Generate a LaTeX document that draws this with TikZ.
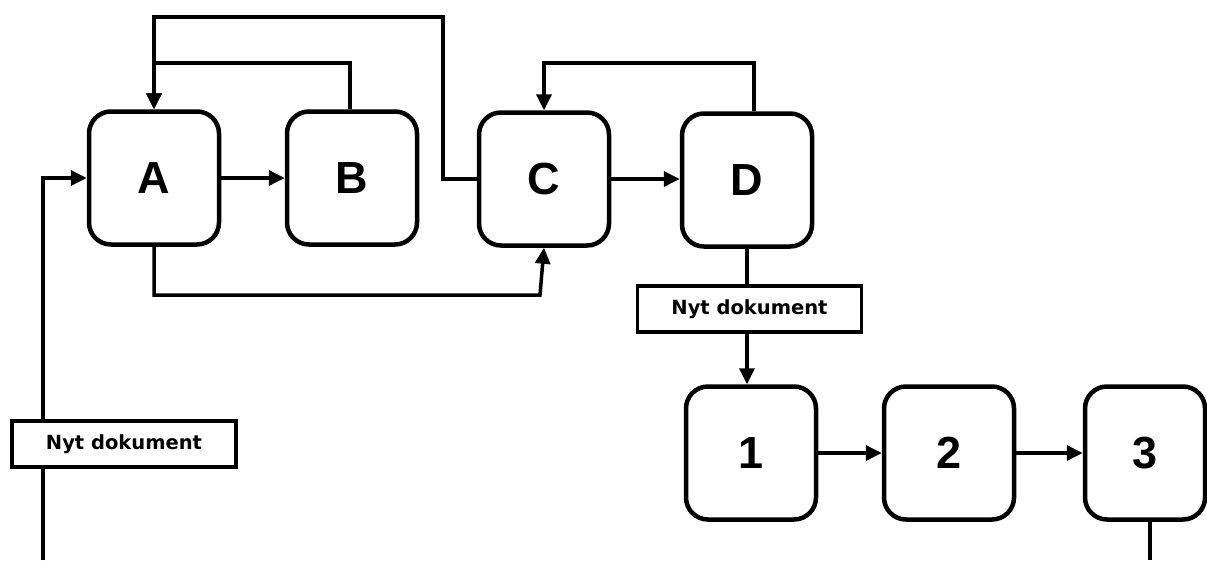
\documentclass[tikz,border=0pt]{standalone}
\usepackage{fontspec}
\setmainfont{Liberation Sans}
\newfontfamily\labelfont{DejaVu Sans}
\usetikzlibrary{arrows.meta}
\tikzset{
  stage/.style={draw, line width=4.5pt, rounded corners=22pt, fill=white,
    minimum width=130pt, minimum height=133pt, inner sep=0pt,
    font=\fontsize{45}{45}\selectfont\bfseries},
  doclabel/.style={draw, line width=3.5pt, fill=white,
    minimum width=224pt, minimum height=46pt, inner sep=0pt,
    font=\labelfont\fontsize{19.5}{21}\selectfont\bfseries},
  link/.style={line width=3.5pt},
  flow/.style={link, -{Triangle[length=16pt,width=15pt]}},
}
\begin{document}
\begin{tikzpicture}[x=1pt,y=-1pt]
\useasboundingbox (0,0) rectangle (1207,560);
\clip (0,0) rectangle (1207,560);

% process stages
\node[stage] (A) at (154,178) {A};
\node[stage] (B) at (352,178) {B};
\node[stage] (C) at (544,179) {C};
\node[stage] (D) at (747,180) {D};
\node[stage] (n1) at (751,453) {1};
\node[stage] (n2) at (949,453) {2};
\node[stage, minimum width=120pt] (n3) at (1145,453) {3};

% routing points
\coordinate (in)   at (43,560);
\coordinate (btop) at (350,63);
\coordinate (ctop) at (443,17);
\coordinate (dtop) at (754,63);
\coordinate (ac)   at (540,295);
\coordinate (out)  at (1150,560);

% connectors
\draw[flow] (in) |- (A.west);
\draw[flow] (A.east) -- (B.west);
\draw[flow] (btop |- B.north) -- (btop) -| (A.north);
\draw[flow] (C.west) -| (ctop) -| (A.north);
\draw[flow] (C.east) -- (C.east -| D.west);
\draw[flow] (dtop |- D.north) -- (dtop) -| (C.north);
\draw[flow] (A.south) |- (ac) -- (C.south);
\draw[flow] (D.south) -- (D.south |- n1.north);
\draw[flow] (n1.east) -- (n2.west);
\draw[flow] (n2.east) -- (n3.west);
\draw[link] (out |- n3.south) -- (out);

% document labels on the connectors
\node[doclabel] (doc1) at (749.5,309) {Nyt dokument};
\node[doclabel] (doc2) at (124,444) {Nyt dokument};
\end{tikzpicture}
\end{document}
